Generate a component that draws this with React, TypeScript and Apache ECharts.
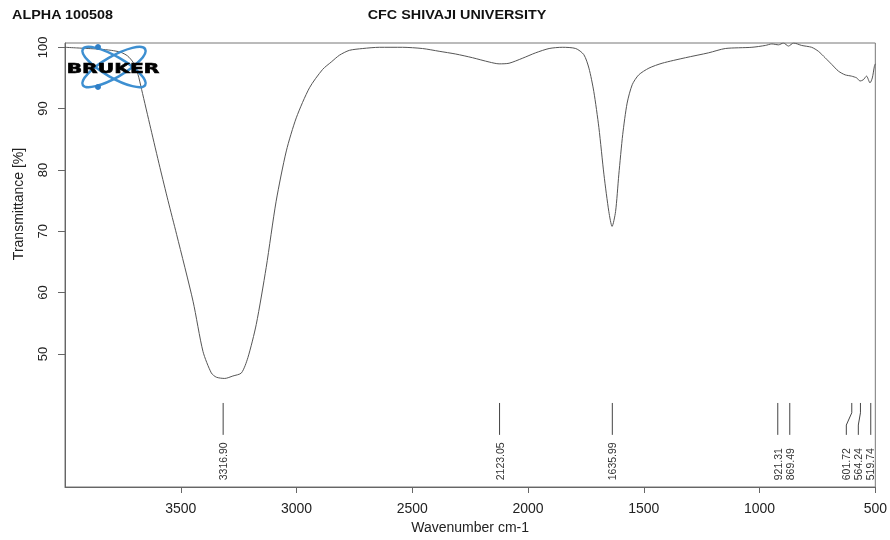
import React, { useEffect, useRef } from "react";
import * as echarts from "echarts";

// Spectrum (wavenumber cm-1, transmittance %)
const wavenumbers = [
  4000, 3950, 3900, 3850, 3800, 3760, 3730, 3705, 3685, 3669, 3630, 3590, 3555, 3518,
  3447, 3404, 3368, 3346, 3310, 3275, 3238, 3210, 3174, 3131, 3088, 3044, 3001, 2944,
  2887, 2850, 2815, 2772, 2714, 2642, 2542, 2456, 2384, 2312, 2240, 2168, 2125, 2082,
  2025, 1967, 1909, 1852, 1794, 1759, 1737, 1716, 1694, 1672, 1651, 1637, 1622, 1608,
  1591, 1572, 1550, 1522, 1478, 1421, 1320, 1220, 1148, 1033, 975, 947, 918, 897, 875,
  853, 818, 775, 746, 717, 688, 659, 630, 603, 580, 566, 552, 538, 523, 513, 504, 500,
];
const transmittance = [
  100.0, 99.9, 99.8, 99.7, 99.5, 99.2, 98.6, 97.5, 95.6, 93.1, 86.8, 80.4, 75.0, 69.5,
  58.6, 50.4, 46.9, 46.2, 46.0, 46.4, 46.9, 49.4, 54.8, 64.1, 74.9, 83.1, 88.5, 93.4,
  96.4, 97.6, 98.7, 99.5, 99.8, 100.0, 100.0, 99.8, 99.35, 98.9, 98.3, 97.6, 97.3, 97.4,
  98.2, 99.1, 99.8, 100.0, 99.8, 98.8, 96.6, 92.8, 86.9, 79.2, 73.2, 70.8, 73.2, 79.2,
  85.8, 90.9, 93.9, 95.5, 96.6, 97.4, 98.3, 99.1, 99.8, 100.0, 100.3, 100.55, 100.4, 100.7, 100.2,
  100.7, 100.3, 100.0, 99.35, 98.3, 97.2, 96.1, 95.5, 95.3, 95.0, 94.5, 94.7, 95.3, 94.2, 95.0, 96.9, 97.3,
];
const xTicks = [3500, 3000, 2500, 2000, 1500, 1000, 500];
const yTicks = [50, 60, 70, 80, 90, 100];
const peakWavenumbers = [3316.9, 2123.05, 1635.99, 921.31, 869.49, 601.72, 564.24, 519.74];

const FONT = "'Liberation Sans', Arial, Helvetica, sans-serif";

export default function App() {
  const ref = useRef<HTMLDivElement>(null);
  useEffect(() => {
    const chart = echarts.init(ref.current!, null, { renderer: "svg" });
    const spectrum = wavenumbers.map((w, i) => [w, transmittance[i]]);

    const LINE_TOP = 42.0;
    const KNEE1 = 40.4;
    const KNEE2 = 38.4;
    const LINE_BOTTOM = 36.8;
    const LABEL_BASE = 29.4;
    const MIN_GAP = 12;

    const spreadLabels = (xs: number[], rightLimit: number) => {
      const order = xs.map((x, i) => ({ x, i })).sort((a, b) => a.x - b.x);
      let clusters: { idx: number[]; xs: number[] }[] = order.map((o) => ({ idx: [o.i], xs: [o.x] }));
      const place = (c: { idx: number[]; xs: number[] }) => {
        const n = c.idx.length;
        const mean = c.xs.reduce((s, v) => s + v, 0) / n;
        let start = mean - ((n - 1) * MIN_GAP) / 2;
        if (start + (n - 1) * MIN_GAP > rightLimit) start = rightLimit - (n - 1) * MIN_GAP;
        return c.idx.map((_, k) => start + k * MIN_GAP);
      };
      let changed = true;
      while (changed) {
        changed = false;
        for (let k = 0; k < clusters.length - 1; k++) {
          const a = place(clusters[k]);
          const b = place(clusters[k + 1]);
          if (b[0] - a[a.length - 1] < MIN_GAP - 0.5) {
            clusters[k] = {
              idx: clusters[k].idx.concat(clusters[k + 1].idx),
              xs: clusters[k].xs.concat(clusters[k + 1].xs),
            };
            clusters.splice(k + 1, 1);
            changed = true;
            break;
          }
        }
      }
      const out: number[] = new Array(xs.length);
      clusters.forEach((c) => {
        const p = place(c);
        c.idx.forEach((id, k) => (out[id] = c.idx.length > 1 ? p[k] : c.xs[k]));
      });
      return out;
    };

    chart.setOption({
      animation: false,
      textStyle: { fontFamily: FONT },
      grid: {
        left: 65,
        right: 12,
        top: 43,
        bottom: 53,
        show: true,
        borderColor: "#777",
        borderWidth: 1,
      },
      xAxis: {
        type: "value",
        min: 500,
        max: 4000,
        inverse: true,
        axisLine: { show: true, lineStyle: { color: "#666", width: 1 } },
        axisTick: { show: true, length: 6, customValues: xTicks, lineStyle: { color: "#666" } },
        axisLabel: {
          customValues: xTicks,
          fontSize: 14,
          color: "#222",
          margin: 14,
          fontFamily: FONT,
          formatter: (v: number) => String(v),
        },
        splitLine: { show: false },
        name: "Wavenumber cm-1",
        nameLocation: "middle",
        nameGap: 30,
        nameTextStyle: { fontSize: 14, color: "#222", fontFamily: FONT },
      },
      yAxis: {
        type: "value",
        min: 28.3,
        max: 100.7,
        axisLine: { show: true, lineStyle: { color: "#666", width: 1 } },
        axisTick: { show: true, length: 7, customValues: yTicks, lineStyle: { color: "#666" } },
        axisLabel: {
          customValues: yTicks,
          rotate: 90,
          fontSize: 13,
          color: "#222",
          margin: 16,
          fontFamily: FONT,
          formatter: (v: number) => String(v),
        },
        splitLine: { show: false },
      },
      graphic: [
        {
          type: "text",
          x: 12,
          y: 15,
          scaleX: 1.15,
          style: { text: "ALPHA 100508", font: `bold 12.5px ${FONT}`, fill: "#111", textVerticalAlign: "middle" },
        },
        {
          type: "text",
          x: 457,
          y: 15,
          scaleX: 1.15,
          style: {
            text: "CFC SHIVAJI UNIVERSITY",
            font: `bold 12.5px ${FONT}`,
            fill: "#111",
            textAlign: "center",
            textVerticalAlign: "middle",
          },
        },
        {
          type: "text",
          x: 18,
          y: 204,
          rotation: Math.PI / 2,
          style: {
            text: "Transmittance [%]",
            font: `14px ${FONT}`,
            fill: "#222",
            textAlign: "center",
            textVerticalAlign: "middle",
          },
        },
        {
          type: "group",
          z: 100,
          children: [
            {
              type: "ellipse",
              x: 114,
              y: 67,
              rotation: Math.PI / 6,
              shape: { cx: 0, cy: 0, rx: 36, ry: 10.5 },
              style: { fill: "rgba(0,0,0,0)", stroke: "#3d8fd1", lineWidth: 2.5 },
              z: 100,
            },
            {
              type: "ellipse",
              x: 114,
              y: 67,
              rotation: -Math.PI / 6,
              shape: { cx: 0, cy: 0, rx: 36, ry: 10.5 },
              style: { fill: "rgba(0,0,0,0)", stroke: "#3d8fd1", lineWidth: 2.5 },
              z: 100,
            },
            { type: "circle", shape: { cx: 98, cy: 47, r: 3 }, style: { fill: "#2f7fc7" }, z: 101 },
            { type: "circle", shape: { cx: 98, cy: 87, r: 3 }, style: { fill: "#2f7fc7" }, z: 101 },
            {
              type: "text",
              x: 113,
              y: 68,
              scaleX: 1.45,
              z: 102,
              style: {
                text: "BRUKER",
                font: `900 14px 'DejaVu Sans', ${FONT}`,
                fill: "#000",
                stroke: "#000",
                lineWidth: 0.6,
                textAlign: "center",
                textVerticalAlign: "middle",
              },
            },
          ],
        },
      ],
      series: [
        {
          type: "line",
          data: spectrum,
          showSymbol: false,
          smooth: 0.25,
          lineStyle: { color: "#555", width: 1 },
          z: 2,
        },
        {
          type: "custom",
          data: peakWavenumbers.map((w) => [w, LINE_TOP]),
          renderItem: (params: any, api: any) => {
            const i = params.dataIndex;
            const w = peakWavenumbers[i];
            const xs = peakWavenumbers.map((p) => api.coord([p, LINE_TOP])[0]);
            const cs = params.coordSys;
            const labelXs = spreadLabels(xs, cs.x + cs.width - 5);
            const lx = labelXs[i];
            const p0 = api.coord([w, LINE_TOP]);
            const p1 = api.coord([w, KNEE1]);
            const p2 = api.coord([w, KNEE2]);
            const p3 = api.coord([w, LINE_BOTTOM]);
            const pb = api.coord([w, LABEL_BASE]);
            const pts =
              Math.abs(lx - p0[0]) < 0.5
                ? [p0, p3]
                : [p0, p1, [lx, p2[1]], [lx, p3[1]]];
            return {
              type: "group",
              children: [
                {
                  type: "polyline",
                  shape: { points: pts },
                  style: { stroke: "#444", lineWidth: 1, fill: null },
                },
                {
                  type: "text",
                  x: lx,
                  y: pb[1],
                  rotation: Math.PI / 2,
                  style: {
                    text: w.toFixed(2),
                    font: `10.5px ${FONT}`,
                    fill: "#333",
                    textAlign: "left",
                    textVerticalAlign: "middle",
                  },
                },
              ],
            };
          },
          z: 3,
        },
      ],
    });
    return () => chart.dispose();
  }, []);
  return <div ref={ref} style={{ position: "fixed", left: 0, top: 0, width: 890, height: 540 }} />;
}
